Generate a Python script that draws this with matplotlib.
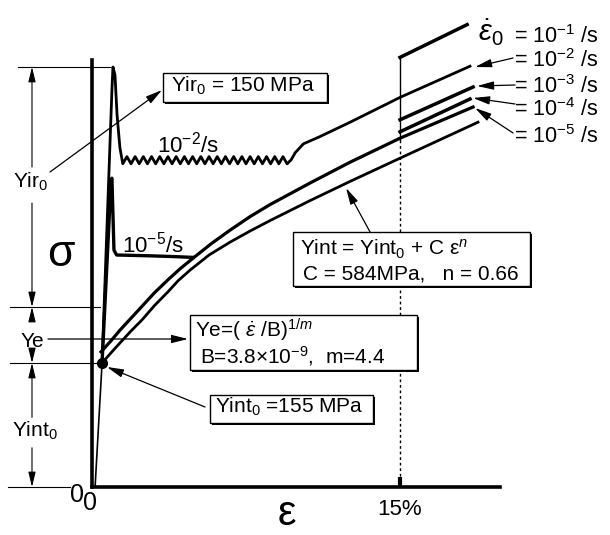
import matplotlib.pyplot as plt
import matplotlib.patches as mpatches
import matplotlib.patheffects as pe

plt.rcParams['font.family'] = ['Liberation Sans', 'DejaVu Sans']
plt.rcParams['mathtext.fontset'] = 'custom'
plt.rcParams['mathtext.rm'] = 'Liberation Sans'
plt.rcParams['mathtext.it'] = 'Liberation Sans:italic'
plt.rcParams['mathtext.bf'] = 'Liberation Sans:bold'

# %% data: strain in %, stress in MPa (read off the schematic)
elastic_strain = [0.15, 0.49]
elastic_stress = [0, 155]

# 10^-2 /s : sharp upper yield point, serrated plateau, then hardening
drop2_strain = [0.49, 0.97, 1.02, 1.12, 1.22, 1.36]
drop2_stress = [155, 496, 525, 515, 465, 424]
serr2_strain = [1.5, 1.7, 1.9, 2.1, 2.3, 2.5, 2.7, 2.9, 3.1, 3.3,
                3.5, 3.7, 3.9, 4.1, 4.3, 4.5, 4.7, 4.9, 5.1, 5.3,
                5.5, 5.7, 5.9, 6.1, 6.3, 6.5, 6.7, 6.9, 7.1, 7.3,
                7.5, 7.7, 7.9, 8.1, 8.3, 8.5, 8.7, 8.9, 9.1, 9.3, 9.5]
serr2_stress = [404, 413, 404, 413, 404, 413, 404, 413, 404, 413,
                404, 413, 404, 413, 404, 413, 404, 413, 404, 413,
                404, 413, 404, 413, 404, 413, 404, 413, 404, 413,
                404, 413, 404, 413, 404, 413, 404, 413, 404, 413, 404]
harden2_strain = [9.7, 9.9, 10.3, 11.1, 12.57, 15.0, 18.41]
harden2_stress = [409, 418, 429, 438, 456, 487, 526]

# 10^-5 /s : small yield point and flat plateau
drop5_strain = [0.49, 0.93, 0.97, 1.07, 1.2, 2.8, 4.0, 4.92]
drop5_stress = [155, 384, 386, 296, 290, 289, 288, 287]

# steady curve at 10^-5 /s  (Yint + Ye)
steady5_strain = [0.44, 0.9, 1.36, 1.9, 2.44, 3.05, 3.70, 4.3, 4.92, 5.8, 6.72,
                  7.7, 8.67, 10.62, 12.57, 15.0, 18.56]
steady5_stress = [169, 182, 196, 211, 226, 243, 259, 273, 286, 304, 321,
                  338, 353, 380, 406, 436, 475]

# internal stress Yint = Yint0 + C eps^n
yint_strain = [0.49, 0.9, 1.36, 1.9, 2.44, 3.05, 3.70, 4.2, 4.77, 5.7, 6.72,
               7.7, 8.67, 10.62, 12.57, 15.0, 18.80]
yint_stress = [155, 167, 180, 195, 209, 227, 244, 258, 271, 290, 306,
               320, 333, 358, 382, 411, 456]

# rate jumps at 15 %  (10^-1, 10^-3, 10^-4 /s)
jump_strain = [[15.0, 18.27], [15.0, 18.56], [15.0, 18.41]]
jump_stress = [[537, 578], [459, 500], [444, 485]]

rate_labels = ['10^{-2}', '10^{-3}', '10^{-4}', '10^{-5}']
yint0 = 155
peak_stress = 525
ye_top = 225

W, H = 610, 535


def at(x, y):
    # image pixel position -> data position (only used for placing labels)
    return (x - 92) / 20.53, (487 - y) * 1.25


fig = plt.figure(figsize=(W / 100, H / 100), dpi=100)
ax = fig.add_axes([92 / W, 48 / H, 408 / W, 427 / H])
ax.set_xlim(0, 19.87)
ax.set_ylim(0, 533.75)
for s in ['top', 'right']:
    ax.spines[s].set_visible(False)
for s in ['left', 'bottom']:
    ax.spines[s].set_linewidth(2.6)
ax.set_xticks([])
ax.set_yticks([])

kw = dict(color='black', clip_on=False, solid_joinstyle='round')

# %% curves
ax.plot(elastic_strain, elastic_stress, lw=1.2, **kw)
ax.plot(drop2_strain + serr2_strain + harden2_strain,
        drop2_stress + serr2_stress + harden2_stress, lw=2.0, **kw)
ax.plot(drop5_strain, drop5_stress, lw=2.4, **kw)
ax.plot(steady5_strain, steady5_stress, lw=2.3, **kw)
ax.plot(yint_strain, yint_stress, lw=2.0, **kw)
for e, s in zip(jump_strain, jump_stress):
    ax.plot(e, s, lw=2.5, **kw)
ax.plot([15, 15], [jump_stress[0][0], 434], lw=1.0, **kw)
ax.plot([15, 15], [434, 10], lw=1.0, ls=(0, (2, 2)), color='black', clip_on=False)
# 15 % tick
ax.plot([15, 15], [0, 12], lw=3, color='black', solid_capstyle='butt', clip_on=False)
ax.text(15, at(0, 515)[1], '15%', fontsize=16, ha='center', va='baseline')
ax.plot([yint_strain[0]], [yint0], 'o', ms=7, **kw)

# %% dimension lines on the left
thin = dict(color='black', lw=0.8, clip_on=False)
ax.plot([at(18, 0)[0], at(110, 0)[0]], [peak_stress] * 2, **thin)
ax.plot([at(10, 0)[0], at(100, 0)[0]], [ye_top] * 2, **thin)
ax.plot([at(10, 0)[0], at(100, 0)[0]], [yint0] * 2, **thin)
ax.plot([at(8, 0)[0], at(70, 0)[0]], [0, 0], **thin)

dim = dict(arrowstyle='-|>,head_length=0.9,head_width=0.22', color='black', lw=0.8,
           shrinkA=0, shrinkB=0)
xd = at(32, 0)[0]
for y0, y1 in [(400, peak_stress), (355, ye_top), (207, ye_top), (171, yint0),
               (87, yint0), (49, 0)]:
    ax.annotate('', xy=(xd, y1), xytext=(xd, y0), arrowprops=dim, annotation_clip=False)

ax.text(*at(31, 188), 'Yir$_0$', fontsize=15, ha='center', va='baseline')
ax.text(*at(32, 347), 'Ye', fontsize=15, ha='center', va='baseline')
ax.text(*at(35, 437), 'Yint$_0$', fontsize=15, ha='center', va='baseline')

ax.text(*at(61, 255), 'σ', fontsize=32, ha='center', va='center')
ax.text(*at(287, 514), 'ε', fontsize=30, ha='center', va='center')
ax.text(*at(77, 495), '0', fontsize=18, ha='center', va='center')
ax.text(*at(90, 503), '0', fontsize=18, ha='center', va='center')

ax.text(*at(157, 152), '10$^{-2}$/s', fontsize=16, va='baseline')
ax.text(*at(122, 252), '10$^{-5}$/s', fontsize=16, va='baseline')

# %% right labels
ax.text(*at(478, 41), r'$\dot{ε}_0$', fontsize=21, va='baseline')
ax.text(*at(514, 43), '= 10$^{-1}$ /s', fontsize=15.5, va='baseline')
arr = dict(arrowstyle='-|>,head_length=1.0,head_width=0.25', color='black', lw=0.9,
           shrinkA=0, shrinkB=0)
tips = [(475, 67), (477, 86), (473, 98), (475, 108)]
tails = [(513, 58), (515, 85), (515, 104), (513, 133)]
bases = [67, 93, 116, 143]
for lab, tip, tail, b in zip(rate_labels, tips, tails, bases):
    ax.text(*at(514, b), '= $' + lab + '$ /s', fontsize=15.5, va='baseline')
    ax.annotate('', xy=at(*tip), xytext=at(*tail), arrowprops=arr, annotation_clip=False)

# %% boxes
shadow = [pe.SimplePatchShadow(offset=(1.6, -1.6), shadow_rgbFace='black', alpha=1), pe.Normal()]


def box(x0, y0, x1, y1):
    (a, b), (c, d) = at(x0, y1), at(x1, y0)
    r = mpatches.Rectangle((a, b), c - a, d - b, facecolor='white', edgecolor='black',
                           lw=1.0, clip_on=False, zorder=4)
    r.set_path_effects(shadow)
    ax.add_patch(r)


tk = dict(fontsize=15, va='baseline', zorder=5)
box(163, 73, 327, 102)
ax.text(*at(171, 92), 'Yir$_0$ = 150 MPa', **tk)
ax.annotate('', xy=at(162, 90), xytext=at(50, 172), arrowprops=arr, annotation_clip=False)

box(293, 232, 530, 286)
ax.text(*at(300, 255), 'Yint = Yint$_0$ + C ε$^{n}$', **tk)
ax.text(*at(303, 279), 'C = 584MPa,   n = 0.66', **tk)
ax.annotate('', xy=at(346, 188), xytext=at(370, 232), arrowprops=arr, annotation_clip=False)

box(190, 315, 417, 370)
ax.text(*at(195, 338), r'Ye=( $\dot{ε}$ /B)$^{1/m}$', **tk)
ax.text(*at(200, 363), 'B=3.8×10$^{-9}$,  m=4.4', **tk)
ax.annotate('', xy=at(188, 339), xytext=at(48, 339), arrowprops=arr, annotation_clip=False)

box(210, 395, 373, 423)
ax.text(*at(215, 413), 'Yint$_0$ =155 MPa', **tk)
ax.annotate('', xy=at(107, 367), xytext=at(205, 407), arrowprops=arr, annotation_clip=False)

fig.savefig('out.png', dpi=100)
